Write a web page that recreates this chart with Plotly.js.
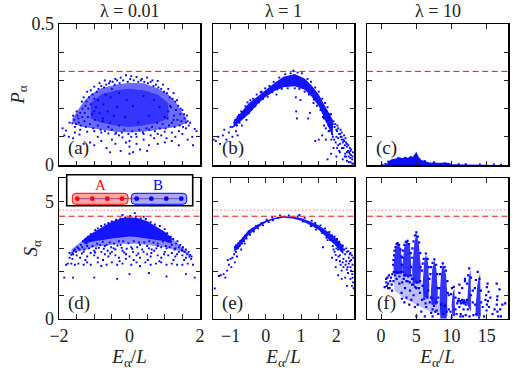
<!DOCTYPE html>
<html><head><meta charset="utf-8">
<script src="https://cdn.plot.ly/plotly-3.0.1.min.js"></script>
<style>html,body{margin:0;padding:0;background:#fff}</style></head>
<body><div id="chart" style="width:518px;height:370px"></div>
<script>
// reference levels
const pageLevel=0.332, entropyPage=4.37, entropyMax=4.63;
// dense parts of each cloud: [x, upper, lower]
const bandA=[[-1.62,.165,.15],[-1.45,.195,.14],[-1.3,.225,.135],[-1.1,.25,.13],[-.8,.272,.125],[-.4,.285,.118],[0,.292,.115],[.4,.29,.118],[.8,.272,.125],[1.1,.25,.13],[1.3,.225,.135],[1.45,.195,.14],[1.62,.165,.15]];
const coreA=[[-1.1,.22,.165],[-.8,.25,.15],[-.4,.265,.14],[0,.27,.135],[.4,.265,.14],[.8,.25,.15],[1.1,.22,.165]];
const bandB=[[-.9,.16,.135],[-.78,.175,.148],[-.5,.217,.178],[-.2,.248,.22],[0,.266,.242],[.25,.292,.262],[.5,.313,.276],[.82,.323,.279],[1.1,.307,.267],[1.3,.282,.242],[1.5,.25,.208],[1.7,.205,.155],[1.9,.16,.1]];
const bandC=[[.45,0,0],[.9,.006,0],[1.2,.016,0],[1.5,.02,0],[2.1,.023,0],[2.4,.028,0],[3.1,.024,0],[3.4,.03,0],[3.8,.025,0],[4.2,.033,0],[4.5,.028,0],[5,.047,0],[5.3,.03,0],[5.7,.018,0],[6.2,.014,0],[6.8,.009,0],[8,.008,0],[9,.007,0],[9.6,.008,0],[10,.003,0],[13,.002,0],[15,.003,0],[16.5,.001,0]];
const bandD=[[-1.65,2.95,2.8],[-1.45,3.2,2.85],[-1.2,3.5,2.95],[-1,3.72,3.05],[-.5,4.15,3.15],[-.2,4.3,3.2],[0,4.33,3.2],[.2,4.3,3.2],[.5,4.18,3.15],[1,3.72,3.05],[1.25,3.4,2.95],[1.5,3.05,2.85],[1.68,2.8,2.68]];
const coreD=[[-1.3,3.38,3.2],[-1,3.7,3.3],[-.5,4.13,3.42],[-.2,4.29,3.48],[0,4.32,3.5],[.2,4.29,3.48],[.5,4.16,3.42],[1,3.7,3.3],[1.2,3.45,3.2]];
const bandE=[[-.9,3.05,2.85],[-.78,3.25,2.98],[-.5,3.76,3.55],[-.25,4.01,3.86],[0,4.19,4.1],[.25,4.31,4.24],[.5,4.37,4.31],[.75,4.35,4.27],[1,4.29,4.18],[1.25,4.15,4],[1.5,3.98,3.78],[1.75,3.72,3.45],[1.95,3.47,3.15],[2.2,3.1,2.75]];
// spikes of panel (f), outlined as closed shapes
const spikesFX=[1.75,2,2.4,2.8,3,2.95,1.85,1.75,null,3,3.3,3.7,4.1,4.3,4.2,3.1,3,null,4.4,4.7,5,5.35,5.65,5.55,4.5,4.4,null,5.9,6.1,6.35,6.65,6.85,6.7,6,5.9,null,7.05,7.25,7.55,7.85,8.05,7.85,7.15,7.05,null,8.3,8.5,8.75,9.2,9.4,9.3,8.4,8.3,null,10,10.15,10.4,10.5,10.1,10,null,12.2,12.4,12.7,12.75,12.2,null,13.4,13.65,14.05,14.15,13.4,13.4];
const spikesFY=[2.2,3,3.2,3,2.2,1.9,1.9,2.2,null,2.2,3.1,3.3,3.1,2.2,1.8,1.8,2.2,null,2.1,3.2,3.65,3.2,2.1,1.5,1.5,2.1,null,1.5,2.4,2.75,2.4,1.4,.9,.9,1.5,null,1.1,2.1,2.5,2.1,1.1,.6,.6,1.1,null,1,1.9,2.33,1.9,1,0,0,1,null,.6,1.1,1.3,.1,.1,.6,null,.6,1.7,2.1,.3,.6,null,.5,1.45,1.95,.1,.1,.5];
const hazeFX=[1.8,4,5.5,7,9.4,9.5,7,5,3,1.9];
const hazeFY=[1.9,1.9,1.6,1,.6,.1,.3,.6,.9,1.2];
// scattered states: [x, y]
const ptsA=[[-1.9,.13],[-1.85,.105],[-1.8,.122],[-1.72,.1],[-1.6,.095],[-1.55,.115],[-1.42,.108],[-1.3,.075],[-1.12,.08],[-1,.07],[-.9,.1],[-.8,.085],[-.65,.06],[-.55,.045],[-.5,.09],[-.4,.075],[-.3,.105],[-.25,.05],[-.1,.08],[0,.04],[0,.065],[0,.085],[.05,.1],[.1,.045],[.2,.075],[.3,.055],[.4,.09],[.5,.05],[.55,.07],[.7,.095],[.8,.075],[.9,.105],[1,.08],[1.05,.095],[1.2,.085],[1.3,.1],[1.4,.07],[1.5,.11],[1.65,.09],[1.8,.07],[1.78,.1],[1.9,.12],[1.85,.128],
[-1.7,.15],[-1.6,.175],[-1.5,.19],[-1.45,.165],[-1.35,.225],[-1.3,.24],[-1.25,.21],[-1.2,.26],[-1.1,.265],[-1,.278],[-.85,.29],[-.7,.3],[-.55,.297],[-.4,.305],[-.25,.31],[-.1,.318],[.05,.315],[.2,.312],[.35,.305],[.5,.31],[.65,.3],[.8,.298],[.95,.285],[1.1,.27],[1.25,.255],[1.35,.23],[1.45,.2],[1.55,.18],[1.65,.155],[1.72,.15],[1.6,.13],[1.4,.12],[1.2,.115],[1,.118],[.8,.11],[.6,.105],[.4,.11],[.2,.1],[-.2,.098],[-.4,.11],[-.6,.112],[-.8,.115],[-1,.12],[-1.2,.118],[-1.4,.125],[-1.55,.135],
[-1.62,.148],[-1.57,.16],[-1.52,.145],[-1.48,.175],[-1.44,.15],[-1.4,.185],[-1.38,.14],[-1.34,.17],[-1.33,.2],[-1.28,.155],[-1.27,.185],[-1.24,.135],[-1.22,.225],[-1.18,.17],[-1.17,.2],[-1.15,.24],[-1.12,.145],[-1.1,.215],[-1.06,.18],[-1.05,.25],[-1.03,.13],[-1,.235],[-.98,.16],[-.95,.205],[-.93,.26],[-.9,.14],[-.88,.27],[-.85,.185],[-.82,.125],[-.8,.28],[-.76,.155],[-.74,.215],[-.72,.275],[-.7,.12],[-.66,.285],[-.62,.19],[-.6,.135],[-.58,.29],[-.54,.24],[-.5,.125],[-.48,.295],[-.45,.175],[-.42,.285],[-.38,.115],[-.35,.3],[-.3,.14],[-.28,.29],[-.22,.115],[-.18,.3],[-.15,.125],[-.05,.295],[-.03,.11],[.02,.305],[.08,.12],[.12,.3],[.18,.11],[.25,.295],[.28,.125],[.32,.3],[.38,.115],[.42,.295],[.48,.13],[.52,.29],[.56,.125],[.6,.295],[.64,.135],[.68,.28],[.72,.12],[.75,.285],[.78,.15],[.82,.275],[.86,.13],[.9,.27],[.94,.145],[.98,.26],[1.02,.13],[1.06,.255],[1.08,.165],[1.12,.14],[1.14,.24],[1.18,.205],[1.2,.15],[1.22,.235],[1.26,.175],[1.28,.135],[1.3,.225],[1.32,.195],[1.36,.16],[1.38,.21],[1.42,.14],[1.44,.18],[1.47,.155],[1.5,.195],[1.52,.135],[1.56,.165],[1.6,.15],[1.63,.175],[1.68,.14],
[-1,.19],[-.9,.23],[-.75,.165],[-.68,.25],[-.55,.15],[-.5,.27],[-.35,.205],[-.3,.255],[-.12,.17],[-.08,.23],[.1,.21],[.25,.15],[.4,.245],[.55,.175],[.7,.23],[.85,.205],[1,.17],[1.1,.19],[1.25,.16],[1.15,.21]];
const ptsB=[[-1.48,.09],[-1.42,.085],[-1.35,.1],[-1.3,.075],[-1.22,.105],[-1.18,.125],[-1.12,.09],[-1.05,.115],[-1,.135],[-.95,.1],[-.9,.14],[-.85,.12],[-.8,.105],[-.75,.15],[-.68,.14],[-.6,.19],[-.55,.16],[-.12,.26],[.3,.25],[.85,.24],[.86,.19],[.88,.165],[.98,.23],[1.2,.165],[1.25,.185],[1.35,.22],[1.4,.085],[1.5,.09],[1.6,.105],[1.62,.17],[1.7,.09],[1.72,.155],[1.75,.02],[1.8,.12],[1.85,.04],[1.85,.18],[1.9,.1],[1.92,.06],[1.95,.135],[2,.1],[2,.03],[2.03,.14],[2.05,.07],[2.08,.11],[2.1,.045],[2.12,.125],[2.15,.09],[2.18,.02],[2.2,.06],[2.22,.105],[2.25,.04],[2.27,.08],[2.3,.065],[2.3,.015],[2.33,.05],[2.35,.03],[2.38,.06],[2.4,.01],[2.42,.035],[2.45,.02],[2.47,.045],[2.48,.005],[2.05,.095],[2.15,.115],[2.28,.03],[1.98,.08],[2.1,.075],[2.2,.09],[2.35,.01],[2.45,.005],[2.4,.05],[1.9,.145],[1.85,.16],[1.8,.165],[1.78,.14],[2.02,.12],[2.12,.1],[2.24,.07],[2.36,.045],
[-.95,.135],[-.9,.15],[-.86,.16],[-.82,.14],[-.8,.172],[-.76,.178],[-.72,.165],[-.7,.19],[-.66,.185],[-.62,.172],[-.58,.208],[-.52,.222],[-.48,.185],[-.44,.23],[-.4,.198],[-.36,.235],[-.3,.208],[-.26,.25],[-.2,.222],[-.15,.258],[-.08,.235],[-.02,.272],[.05,.242],[.1,.28],[.18,.258],[.22,.295],[.32,.268],[.38,.31],[.45,.27],[.55,.322],[.62,.272],[.7,.325],[.78,.335],[.82,.272],[.9,.328],[.95,.27],[1.02,.325],[1.1,.26],[1.18,.305],[1.22,.25],[1.28,.295],[1.36,.232],[1.4,.275],[1.45,.21],[1.5,.26],[1.55,.195],[1.6,.235],[1.65,.165],[1.68,.22],[1.72,.19],[1.75,.205],[1.78,.17],[1.82,.18],[1.88,.135],[1.92,.155],[1.97,.145],[2,.125],[2.05,.13],[2.1,.11],[2.15,.1],[2.18,.08],[2.22,.085],[2.26,.095],[2.3,.075],[2.34,.07],[2.38,.04],[2.42,.055],[2.46,.03],[1.88,.11],[1.94,.09],[2.02,.06],[2.08,.05],[2.16,.06],[2.24,.03],[2.3,.045],[2.4,.025],[1.65,.14],[1.7,.13],[1.78,.12],[1.86,.09]];
const ptsC=[[.2,.001],[.6,.004],[1,.012],[6.2,.014],[7.5,.01],[9,.006],[11,.003],[12,.003],[14,.002],[16,.002],[17,.001]];
const ptsD=[[-1.85,1.75],[-1.6,1.75],[-1,1.75],[-.35,1.7],[0,1.9],[.55,1.95],[1.05,1.8],[1.6,1.9],[1.85,1.75],[-1.8,2.3],[-1.75,2.35],[-1.65,2.35],[-1.55,2.3],[-1.45,2.35],[-1.3,2.3],[-1.2,2.4],[-1.1,2.3],[-.9,2.4],[-.8,2.25],[-.65,2.3],[-.5,2.4],[-.35,2.3],[-.2,2.35],[-.1,2.55],[.05,2.3],[.2,2.4],[.3,2.25],[.45,2.4],[.6,2.3],[.75,2.35],[.9,2.4],[1.05,2.3],[1.2,2.35],[1.35,2.3],[1.5,2.3],[1.65,2.35],[1.8,2.3],[-1.7,2.6],[-1.6,2.75],[-1.5,2.7],[-1.4,2.6],[-1.3,2.85],[-1.2,2.65],[-1.1,2.8],[-1,2.7],[-.9,2.6],[-.8,2.85],[-.7,2.75],[-.6,2.65],[-.5,2.85],[-.4,2.7],[-.3,2.6],[-.2,2.9],[-.1,2.75],[0,2.65],[.1,2.85],[.2,2.7],[.3,2.6],[.4,2.85],[.5,2.75],[.6,2.65],[.7,2.9],[.8,2.7],[.9,2.6],[1,2.85],[1.1,2.7],[1.2,2.8],[1.3,2.65],[1.4,2.85],[1.5,2.7],[1.6,2.6],[1.7,2.65],[1.75,2.55],[-1.45,3],[-1.2,3.1],[-.95,3],[-.7,3.1],[-.45,3],[-.25,3.15],[.05,3.05],[.3,3.15],[.55,3],[.8,3.1],[1.05,3],[1.3,3],[1.5,2.9],[-1.55,2.95],[.15,4.5],[-.2,4.42],[.4,4.35],
[-1.62,2.8],[-1.58,2.9],[-1.52,2.85],[-1.48,3.05],[-1.42,2.95],[-1.38,3.15],[-1.34,3.05],[-1.32,3.3],[-1.28,2.95],[-1.25,3.4],[-1.22,3.2],[-1.18,3.5],[-1.15,3],[-1.12,3.35],[-1.1,3.6],[-1.05,3.1],[-1.03,3.5],[-1,2.9],[-.97,3.78],[-.92,3.2],[-.9,3.85],[-.87,3.02],[-.83,3.15],[-.8,3.95],[-.76,3.28],[-.73,2.98],[-.7,4.02],[-.65,3.15],[-.62,2.9],[-.6,4.08],[-.56,3.25],[-.52,3.05],[-.5,4.15],[-.44,3.2],[-.4,2.95],[-.38,4.22],[-.34,3.12],[-.3,3.3],[-.26,4.28],[-.22,3.02],[-.18,3.3],[-.12,4.32],[-.08,2.98],[-.03,3.22],[.02,4.38],[.08,2.98],[.12,3.3],[.18,4.35],[.22,3.05],[.27,3.25],[.32,4.28],[.36,2.95],[.42,3.25],[.46,4.25],[.5,3.1],[.56,3.3],[.6,4.12],[.63,2.95],[.68,3.25],[.72,4.02],[.76,3],[.8,3.2],[.86,3.95],[.9,3.05],[.95,3.3],[1,3.82],[1.03,3.1],[1.07,3.65],[1.1,3.3],[1.14,3.05],[1.17,3.5],[1.2,3.15],[1.24,3.4],[1.28,2.95],[1.32,3.2],[1.36,3.3],[1.4,3.05],[1.44,3.15],[1.48,2.95],[1.52,3.05],[1.56,2.85],[1.6,2.95],[1.64,2.75],[1.68,2.85],[1.72,2.72],[-1.65,2.72],[-1.7,2.8],[1.76,2.65],[-1.35,2.78],[-.98,2.82],[-.55,2.78],[-.15,2.82],[.25,2.78],[.62,2.8],[.98,2.75],[1.35,2.75],[-1.62,2.55],[-1.25,2.5],[-.75,2.5],[-.28,2.45],[.12,2.5],[.52,2.5],[.85,2.45],[1.25,2.5],[1.55,2.5]];
const ptsE=[[-1.45,1.29],[-1.33,1.82],[-1.28,1.85],[-1.2,1.9],[-1.15,1.75],[-1.1,2.05],[-1.08,2.5],[-1.05,2.3],[-1,2.55],[-.98,2.2],[-.95,2.6],[-.9,2.75],[-.88,2.4],[-.85,2.85],[-.82,2.65],[-.7,2.95],[-.6,3.2],[.95,4.42],[1.6,3.65],[1.62,3.05],[1.75,3.35],[1.9,3.1],[1.88,2.6],[1.95,2.85],[2,2.5],[2,3],[2.05,1.85],[2.05,2.95],[2.1,2.7],[2.12,2.3],[2.15,2.9],[2.15,2.05],[2.2,2.55],[2.2,2.2],[2.25,2.75],[2.25,1.75],[2.28,2.45],[2.3,2.1],[2.3,2.85],[2.33,1.95],[2.35,2.35],[2.35,2.6],[2.38,2.75],[2.4,1.7],[2.4,2.2],[2.42,2.5],[2.44,1.4],[2.45,1.9],[2.46,2.3],[2.47,1.55],[2.48,2.6],[2.49,1.3],[2.3,1.4],[2.15,1.7],[1.98,2.2],
[-.88,3.05],[-.85,3.12],[-.8,3],[-.78,3.22],[-.75,3.1],[-.72,3.32],[-.68,3.2],[-.65,3.42],[-.62,3.3],[-.58,3.55],[-.55,3.42],[-.48,3.72],[-.45,3.58],[-.38,3.84],[-.34,3.72],[-.28,3.96],[-.22,3.85],[-.12,4.08],[-.08,3.98],[.02,4.22],[.08,4.12],[.18,4.32],[.2,4.2],[.35,4.3],[.4,4.4],[.65,4.4],[.9,4.36],[1.1,4.3],[1.05,4.14],[1.3,4.18],[1.28,3.95],[1.4,4.08],[1.42,3.8],[1.55,3.98],[1.58,3.72],[1.68,3.85],[1.72,3.45],[1.8,3.7],[1.82,3.35],[1.88,3.55],[1.9,3.3],[1.95,3.5],[2,3.25],[2.02,3.4],[2.05,3.15],[2.08,3.28],[2.12,3.05],[2.18,3.12],[2.22,2.95],[2.28,3],[2.34,2.88],[2.4,2.8],[2.44,2.7],[1.92,2.95],[1.98,2.72],[2.06,2.65],[2.1,2.45],[2.18,2.4],[2.26,2.3],[2.32,2.2],[2.38,2.45],[2.42,2.05],[2.46,1.75]];
const ptsF=[[.5,1.35],[.7,1.7],[.8,1.4],[.9,1.75],[1,1.5],[1.1,1.85],[1.2,1.3],[1.3,1.6],[1.4,1.75],[1.5,1.45],[1.6,1.9],[1.75,1.6],[.75,1.55],[1,1.3],[1.55,1.2],[2.2,1.7],[2.6,1.5],[2.9,1.1],[2.95,.85],[3,1.55],[3.3,.7],[3.4,1.3],[3.6,.9],[3.75,1.6],[4,.6],[4.1,1.2],[4.3,.8],[4.4,1.45],[4.6,1],[4.8,.5],[5,1.3],[5,.1],[5.2,.6],[5.5,1.1],[5.7,.3],[5.8,.8],[6.2,.1],[6.4,.5],[6.9,.7],[7.1,.25],[7.3,.1],[7.9,.35],[8.1,.9],[8.1,.2],[9.6,.4],[9.6,1],[10,.05],[10.9,.75],[11.1,.5],[11.1,1.1],[11.3,.65],[11.3,.2],[11.5,.8],[11.5,1.3],[11.7,.65],[11.7,.4],[11.9,.7],[11.9,1.6],[12.1,.7],[12,.15],[11.9,1.7],[11.1,1.45],[13,.7],[13.1,.15],[13,1.2],[14.4,.5],[14.6,.1],[14.8,.8],[15.5,.9],[15.8,.2],[16.4,.6],[16.4,1.5],[16.5,.3],[16.6,.1],[16.8,1.25],[17.2,.6],[17.6,.65],[17,.1],[16.9,.4],
[1.7,2.3],[1.75,2.5],[1.85,2.7],[1.9,2.9],[2.05,3.05],[2.2,3.18],[2.35,3.22],[2.55,3.15],[2.75,2.95],[2.9,2.65],[2.95,2.3],[1.8,2],[2,1.85],[2.15,2],[2.4,1.95],[2.6,1.8],[2.75,2],[3,2],[3.05,2.6],[3.1,2.9],[3.3,3.15],[3.5,3.28],[3.75,3.32],[3.95,3.18],[4.2,2.8],[4.25,2.2],[3.2,1.7],[3.4,1.85],[3.6,1.6],[3.85,1.8],[4.05,1.55],[4.25,1.85],[4.4,2.6],[4.45,3],[4.6,3.3],[4.8,3.55],[5,3.68],[5.2,3.5],[5.4,3.25],[5.55,2.8],[5.6,2.2],[4.4,1.7],[4.6,1.45],[4.85,1.35],[5.1,1.55],[5.35,1.3],[5.55,1.6],[5.8,2.05],[5.9,2.35],[6.05,2.55],[6.35,2.78],[6.6,2.55],[6.75,2.2],[6.85,1.7],[5.9,1.4],[6.1,.85],[6.3,.65],[6.55,.9],[6.7,1.2],[7,1.9],[7.1,2.2],[7.3,2.38],[7.55,2.53],[7.8,2.3],[7.95,1.9],[8,1.3],[7.1,.9],[7.3,.4],[7.5,.55],[7.7,.3],[7.9,.7],[8.25,1.3],[8.35,1.9],[8.5,2.2],[8.75,2.36],[9,2.2],[9.2,2.05],[9.4,1.6],[9.45,1.1],[8.5,.6],[8.8,.2],[9.05,.55],[9.3,.3],[9.9,1.05],[10.05,1.3],[10.3,1.36],[10.55,.9],[10.55,.4],[10.7,.2],[9.85,.3],[12.2,1.5],[12.35,1.85],[12.5,2.15],[12.75,1.75],[12.75,1],[12.2,.8],[12.3,.4],[12.55,.1],[13.3,1.3],[13.45,1.65],[13.7,2],[13.95,1.7],[14.15,1.2],[14.2,.7],[13.35,.6],[13.5,.2],[13.9,.05],[14.9,1],[15,1.35],[15.1,1.5],[15.25,1.15],[15,.6],[15.15,.75],[15.3,.5],[14.95,.35],[11,.85],[11.2,.75],[11.4,.68],[11.6,.72],[11.8,.78],[12,.6],[10.8,.65],[11.25,.1],[11.6,.1],[16.1,.4],[16.45,.8],[16.5,.95]];
const xTicksLeft=[-2,0,2], xMinorLeft=[-1.5,-1,-.5,.5,1,1.5], xLabelsLeft=['−2','0','2'];
const xTicksMid=[-1,0,1,2], xMinorMid=[-.5,.5,1.5], xLabelsMid=['−1','0','1','2'];
const xTicksRight=[0,5,10,15], xLabelsRight=['0','5','10','15'];
const pTicks=[0,.5], pMinor=[.1,.2,.3,.4], pLabels=['0','0.5'];
const sTicks=[0,5], sMinor=[1,2,3,4], sLabels=['0','5'];
const columnTitles=['λ = 0.01','λ = 1','λ = 10'];
const panelLabels=['(a)','(b)','(c)','(d)','(e)','(f)'];

const W=518,H=370,px=v=>v/W,py=v=>1-v/H;
const FONT='Liberation Serif, serif';
const cols=[[59,200],[213,354],[367,508]],rows=[[24,165],[178,318.7]];
const ranges=[[-2,2],[-1.5,2.5],[-2,18]];
const xT=[xTicksLeft,xTicksMid,xTicksRight],xM=[xMinorLeft,xMinorMid,[]],xL=[xLabelsLeft,xLabelsMid,xLabelsRight];
const layout={width:W,height:H,margin:{l:0,r:0,t:0,b:0},showlegend:false,paper_bgcolor:'#fff',plot_bgcolor:'#fff',font:{family:FONT,size:18,color:'#222'},shapes:[],annotations:[]};
const data=[];
const bandTrace=(b,i,c)=>({type:'scatter',mode:'lines',xaxis:'x'+(i+1),yaxis:'y'+(i+1),
  x:b.map(r=>r[0]).concat(b.map(r=>r[0]).reverse()),y:b.map(r=>r[1]).concat(b.map(r=>r[2]).reverse()),
  fill:'toself',fillcolor:c,line:{width:0},hoverinfo:'skip'});
const ptTrace=(p,i,s,c)=>({type:'scatter',mode:'markers',xaxis:'x'+(i+1),yaxis:'y'+(i+1),x:p.map(r=>r[0]),y:p.map(r=>r[1]),marker:{symbol:'square',size:s||1.9,color:c||'#0000ff',line:{width:0}}});
const polyTrace=(x,y,c)=>({type:'scatter',mode:'lines',xaxis:'x6',yaxis:'y6',x:x,y:y,fill:'toself',fillcolor:c,line:{width:0},hoverinfo:'skip'});
const pts=[ptsA,ptsB,ptsC,ptsD,ptsE,ptsF];
const bandColors=['rgba(30,30,255,.66)','rgba(0,0,255,.92)','rgba(0,0,255,.95)','rgba(40,40,255,.55)','rgba(0,0,255,.9)'];
const bands=[bandA,bandB,bandC,bandD,bandE,null];
for(let i=0;i<6;i++){
  const c=i%3,r=i<3?0:1,n=i+1;
  const minorOf=v=>({tickmode:'array',tickvals:v,ticks:'inside',ticklen:4.5,tickwidth:1,tickcolor:'#222',showgrid:false});
  const base={showgrid:false,zeroline:false,showline:true,linecolor:'#000',linewidth:1.5,mirror:'ticks',ticks:'inside',ticklen:4.5,tickwidth:1,tickcolor:'#222',tickmode:'array',tickfont:{family:FONT,size:18,color:'#222'}};
  layout['xaxis'+n]=Object.assign({},base,{anchor:'y'+n,domain:[px(cols[c][0]),px(cols[c][1])],range:ranges[c],tickvals:xT[c],ticktext:xL[c],showticklabels:!!r});
  if(xM[c].length) layout['xaxis'+n].minor=minorOf(xM[c]);
  layout['yaxis'+n]=Object.assign({},base,{anchor:'x'+n,domain:[py(rows[r][1]),py(rows[r][0])],range:r?[0,6]:[0,.5],tickvals:r?sTicks:pTicks,ticktext:r?sLabels:pLabels,showticklabels:!c,minor:minorOf(r?sMinor:pMinor)});
  if(r) layout['xaxis'+n].title={text:'<i>E</i><sub>α</sub>/<i>L</i>',font:{family:FONT,size:19,color:'#222'},standoff:0};
  if(!c) layout['yaxis'+n].title={text:r?'<i>S</i><sub>α</sub>':'<i>P</i><sub>α</sub>',font:{family:FONT,size:19,color:'#222'},standoff:2};
  if(bands[i]) data.push(bandTrace(bands[i],i,bandColors[i]));
  if(i===0) data.push(bandTrace(coreA,0,'rgba(0,0,255,.5)'));
  if(i===3) data.push(bandTrace(coreD,3,'rgba(0,0,255,.85)'));
  if(i===5){data.push(polyTrace(hazeFX,hazeFY,'rgba(0,0,255,.25)'));data.push(polyTrace(spikesFX,spikesFY,'rgba(0,0,255,.8)'));}
  data.push(ptTrace(pts[i],i,i===5?2.2:1.9));
  const lvl=(v,d,col,w)=>data.push({type:'scatter',mode:'lines',xaxis:'x'+n,yaxis:'y'+n,x:ranges[c],y:[v,v],line:{color:col,width:w,dash:d},hoverinfo:'skip'});
  if(!r) lvl(pageLevel,'6px,3.6px','#f01010',1);
  else{lvl(entropyPage,'6px,3.6px','#f01010',1);lvl(entropyMax,'1.5px,2.2px','#ff7777',1);}
  layout.annotations.push({xref:'paper',yref:'paper',x:px(cols[c][0]+19.5),y:py(r?302.5:148),text:panelLabels[i],showarrow:false,font:{family:FONT,size:19,color:'#222'},xanchor:'center',yanchor:'middle'});
}
columnTitles.forEach((t,c)=>layout.annotations.push({xref:'paper',yref:'paper',x:px((cols[c][0]+cols[c][1])/2),y:py(11),text:t,showarrow:false,font:{family:FONT,size:18,color:'#222'},xanchor:'center',yanchor:'middle'}));
// chain sketch on top of panel (d)
const rrect=(x0,y0,x1,y1,r)=>`M${px(x0+r)},${py(y0)}L${px(x1-r)},${py(y0)}Q${px(x1)},${py(y0)} ${px(x1)},${py(y0+r)}L${px(x1)},${py(y1-r)}Q${px(x1)},${py(y1)} ${px(x1-r)},${py(y1)}L${px(x0+r)},${py(y1)}Q${px(x0)},${py(y1)} ${px(x0)},${py(y1-r)}L${px(x0)},${py(y0+r)}Q${px(x0)},${py(y0)} ${px(x0+r)},${py(y0)}Z`;
const sh=o=>layout.shapes.push(Object.assign({xref:'paper',yref:'paper',layer:'above'},o));
sh({type:'rect',x0:px(66.7),x1:px(192.7),y0:py(174.7),y1:py(205.7),fillcolor:'#fff',line:{color:'#000',width:1.6}});
sh({type:'path',path:rrect(72.3,193.3,128,204.3,3.5),fillcolor:'#ffa8a8',line:{color:'#f00',width:1}});
sh({type:'path',path:rrect(131.3,193.3,186.7,204.3,3.5),fillcolor:'#a8a8ff',line:{color:'#00f',width:1}});
sh({type:'line',x0:px(77.3),x1:px(181.3),y0:py(198.7),y1:py(198.7),line:{color:'#7a2a7a',width:.8}});
[77.3,92.3,107.3,122].forEach(x=>sh({type:'circle',x0:px(x-2.4),x1:px(x+2.4),y0:py(201.1),y1:py(196.3),fillcolor:'#f00',line:{width:0}}));
[136.7,151.3,166.3,181.3].forEach(x=>sh({type:'circle',x0:px(x-2.4),x1:px(x+2.4),y0:py(201.1),y1:py(196.3),fillcolor:'#00f',line:{width:0}}));
[['A',100,'#f00'],['B',158,'#00f']].forEach(a=>layout.annotations.push({xref:'paper',yref:'paper',x:px(a[1]),y:py(185),text:a[0],showarrow:false,font:{family:FONT,size:15,color:a[2]},xanchor:'center',yanchor:'middle'}));
Plotly.newPlot('chart',data,layout,{displayModeBar:false,staticPlot:true});
</script></body></html>
